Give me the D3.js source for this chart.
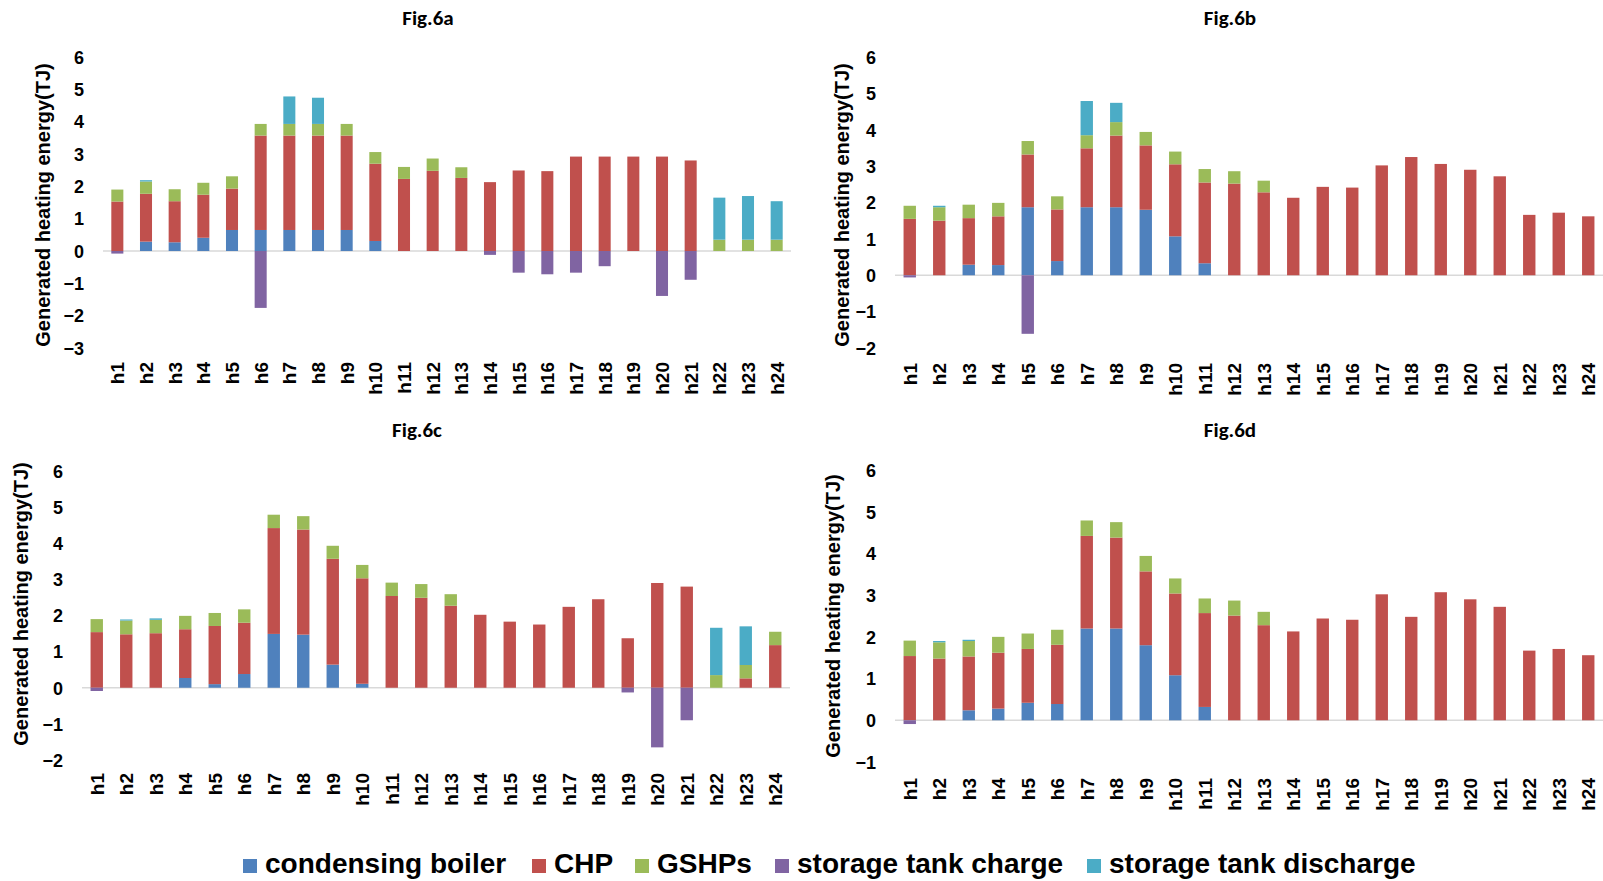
<!DOCTYPE html>
<html><head><meta charset="utf-8">
<script src="https://cdn.jsdelivr.net/npm/d3@7"></script>
<style>body{margin:0;background:#fff}</style>
</head><body><svg id="chart" width="1603" height="881"></svg>
<script>
const hours = d3.range(1, 25).map(i => "h" + i);
const seriesNames = ["condensing boiler", "CHP", "GSHPs", "storage tank charge", "storage tank discharge"];
const seriesKeys = ["boiler", "chp", "gshp", "charge", "discharge"];
const seriesColors = ["#4F81BD", "#C0504D", "#9BBB59", "#8064A2", "#4BACC6"];
const panelTitles = ["Fig.6a", "Fig.6b", "Fig.6c", "Fig.6d"];
const yTicksA = [6, 5, 4, 3, 2, 1, 0, -1, -2, -3];
const yTicksB = [6, 5, 4, 3, 2, 1, 0, -1, -2];
const yTicksC = [6, 5, 4, 3, 2, 1, 0, -1, -2];
const yTicksD = [6, 5, 4, 3, 2, 1, 0, -1];
const yAxisLabel = "Generated heating energy(TJ)";

// Fig.6a
const a_boiler    = [0,0.29,0.27,0.41,0.65,0.65,0.65,0.65,0.65,0.31,0,0,0,0,0,0,0,0,0,0,0,0,0,0];
const a_chp       = [1.53,1.48,1.27,1.33,1.28,2.92,2.92,2.92,2.92,2.39,2.23,2.48,2.26,2.13,2.49,2.47,2.92,2.92,2.92,2.92,2.80,0,0,0];
const a_gshp      = [0.37,0.38,0.37,0.37,0.38,0.36,0.36,0.36,0.36,0.36,0.37,0.38,0.33,0,0,0,0,0,0,0,0,0.35,0.35,0.35];
const a_charge    = [-0.08,0,0,0,0,-1.76,0,0,0,0,0,0,0,-0.12,-0.67,-0.72,-0.67,-0.47,0,-1.39,-0.89,0,0,0];
const a_discharge = [0,0.04,0,0,0,0,0.85,0.81,0,0,0,0,0,0,0,0,0,0,0,0,0,1.30,1.35,1.19];
// Fig.6b
const b_boiler    = [0,0,0.29,0.28,1.87,0.39,1.87,1.87,1.80,1.07,0.33,0,0,0,0,0,0,0,0,0,0,0,0,0];
const b_chp       = [1.55,1.50,1.28,1.34,1.45,1.42,1.62,1.97,1.77,1.98,2.22,2.52,2.28,2.13,2.43,2.41,3.02,3.25,3.06,2.90,2.72,1.66,1.72,1.62];
const b_gshp      = [0.36,0.37,0.37,0.37,0.37,0.36,0.36,0.37,0.37,0.35,0.37,0.34,0.32,0,0,0,0,0,0,0,0,0,0,0];
const b_charge    = [-0.06,0,0,0,-1.61,0,0,0,0,0,0,0,0,0,0,0,0,0,0,0,0,0,0,0];
const b_discharge = [0,0.04,0,0,0,0,0.94,0.53,0,0,0,0,0,0,0,0,0,0,0,0,0,0,0,0];
// Fig.6c
const c_boiler    = [0,0,0,0.27,0.10,0.38,1.49,1.47,0.64,0.11,0,0,0,0,0,0,0,0,0,0,0,0,0,0];
const c_chp       = [1.54,1.48,1.51,1.35,1.61,1.42,2.93,2.91,2.93,2.92,2.54,2.49,2.27,2.02,1.83,1.75,2.24,2.45,1.37,2.90,2.80,0,0.26,1.18];
const c_gshp      = [0.36,0.38,0.37,0.37,0.36,0.37,0.37,0.37,0.36,0.37,0.37,0.38,0.32,0,0,0,0,0,0,0,0,0.35,0.37,0.37];
const c_charge    = [-0.09,0,0,0,0,0,0,0,0,0,0,0,0,0,0,0,0,0,-0.13,-1.65,-0.90,0,0,0];
const c_discharge = [0,0.03,0.04,0,0,0,0,0,0,0,0,0,0,0,0,0,0,0,0,0,0,1.31,1.07,0];
// Fig.6d
const d_boiler    = [0,0,0.24,0.28,0.42,0.39,2.20,2.20,1.80,1.08,0.32,0,0,0,0,0,0,0,0,0,0,0,0,0];
const d_chp       = [1.54,1.48,1.29,1.34,1.29,1.42,2.22,2.18,1.77,1.96,2.25,2.51,2.28,2.13,2.44,2.41,3.02,2.48,3.07,2.90,2.72,1.67,1.71,1.56];
const d_gshp      = [0.37,0.39,0.37,0.38,0.37,0.36,0.37,0.37,0.37,0.36,0.35,0.36,0.32,0,0,0,0,0,0,0,0,0,0,0];
const d_charge    = [-0.09,0,0,0,0,0,0,0,0,0,0,0,0,0,0,0,0,0,0,0,0,0,0,0];
const d_discharge = [0,0.03,0.03,0,0,0,0,0,0,0,0,0,0,0,0,0,0,0,0,0,0,0,0,0];

const panelData = [
  {boiler: a_boiler, chp: a_chp, gshp: a_gshp, charge: a_charge, discharge: a_discharge},
  {boiler: b_boiler, chp: b_chp, gshp: b_gshp, charge: b_charge, discharge: b_discharge},
  {boiler: c_boiler, chp: c_chp, gshp: c_gshp, charge: c_charge, discharge: c_discharge},
  {boiler: d_boiler, chp: d_chp, gshp: d_gshp, charge: d_charge, discharge: d_discharge}
];
const panelTicks = [yTicksA, yTicksB, yTicksC, yTicksD];

// layout (pixels)
const layout = [
  {x0: 103, x1: 791, yTop: 57, yBot: 348, titleX: 428, titleY: 25, labX: 43, labY: 205, hTop: 362},
  {x0: 895, x1: 1603, yTop: 57, yBot: 348, titleX: 1230, titleY: 25, labX: 842, labY: 205, hTop: 363},
  {x0: 82, x1: 790, yTop: 471, yBot: 760, titleX: 417, titleY: 437, labX: 21, labY: 604, hTop: 773},
  {x0: 895, x1: 1603, yTop: 470, yBot: 762, titleX: 1230, titleY: 437, labX: 833, labY: 616, hTop: 778}
];

const svg = d3.select("#chart");
const colorOf = d3.scaleOrdinal().domain(seriesKeys).range(seriesColors);
const tickFont = "'Liberation Sans', Arial, sans-serif";

panelData.forEach((pd, p) => {
  const L = layout[p];
  const ticks = panelTicks[p];
  const g = svg.append("g");
  const x = d3.scaleBand().domain(hours).range([L.x0, L.x1]).paddingInner(0.58).paddingOuter(0.29);
  const y = d3.scaleLinear().domain([d3.max(ticks), d3.min(ticks)]).range([L.yTop, L.yBot]);

  const rows = hours.map((h, i) => {
    const r = {hour: h};
    seriesKeys.forEach(k => r[k] = pd[k][i]);
    return r;
  });
  const stack = d3.stack().keys(seriesKeys).offset(d3.stackOffsetDiverging);
  const stacked = stack(rows);

  // zero line
  g.append("line")
    .attr("x1", L.x0).attr("x2", L.x1)
    .attr("y1", y(0)).attr("y2", y(0))
    .attr("stroke", "#D9D9D9").attr("stroke-width", 1.5);

  g.selectAll("g.series").data(stacked).join("g")
    .attr("class", "series")
    .attr("fill", d => colorOf(d.key))
    .selectAll("rect")
    .data(d => d.filter(v => Math.abs(v[1] - v[0]) > 1e-9))
    .join("rect")
    .attr("x", d => x(d.data.hour))
    .attr("width", x.bandwidth())
    .attr("y", d => y(Math.max(d[0], d[1])))
    .attr("height", d => Math.abs(y(d[0]) - y(d[1])));

  // y axis (labels only)
  const yAxis = d3.axisLeft(y).tickValues(ticks).tickSize(0).tickPadding(0).tickFormat(d3.format("d"));
  const ya = g.append("g").attr("transform", `translate(${L.x0 - 19},0)`).call(yAxis);
  ya.select(".domain").remove();
  ya.selectAll("text").attr("font-family", tickFont).attr("font-size", 18).attr("font-weight", "bold").attr("fill", "#000").attr("dy", "0.35em");

  // x labels (rotated)
  const xAxis = d3.axisBottom(x).tickSize(0).tickPadding(0);
  const xa = g.append("g").attr("transform", `translate(0,${L.hTop})`).call(xAxis);
  xa.select(".domain").remove();
  xa.selectAll("text")
    .attr("font-family", tickFont).attr("font-size", 19).attr("font-weight", "bold").attr("fill", "#000")
    .attr("transform", "rotate(-90)")
    .attr("text-anchor", "end")
    .attr("x", 0).attr("y", 0).attr("dy", "0.36em");

  // y label
  g.append("text")
    .attr("transform", `translate(${L.labX},${L.labY}) rotate(-90)`)
    .attr("text-anchor", "middle").attr("dy", "0.35em")
    .attr("font-family", tickFont).attr("font-size", 20).attr("font-weight", "bold")
    .text(yAxisLabel);

  // title
  g.append("text")
    .attr("x", L.titleX).attr("y", L.titleY)
    .attr("text-anchor", "middle")
    .attr("font-family", "Carlito, Lato, sans-serif").attr("font-size", 21).attr("font-weight", "bold")
    .text(panelTitles[p]);
});

// legend
const legendX = [243, 532, 635, 775, 1087];
const lg = svg.append("g");
seriesNames.forEach((name, i) => {
  lg.append("rect").attr("x", legendX[i]).attr("y", 859).attr("width", 14).attr("height", 14).attr("fill", seriesColors[i]);
  lg.append("text").attr("x", legendX[i] + 22).attr("y", 873)
    .attr("font-family", tickFont).attr("font-size", 28).attr("font-weight", "bold")
    .text(name);
});
</script>
</body></html>
